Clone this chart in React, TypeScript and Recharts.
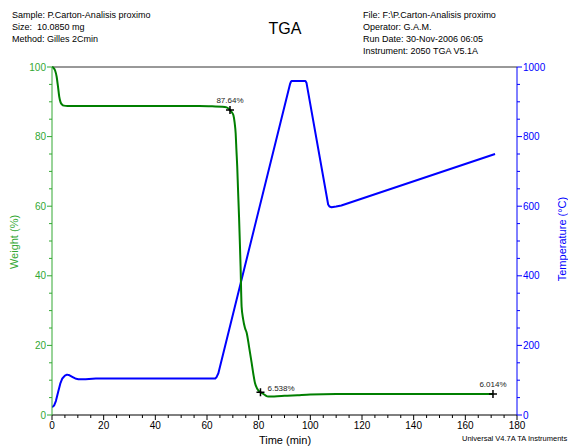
import React from "react"
import { ComposedChart, Line, XAxis, YAxis, ReferenceLine, ReferenceDot } from "recharts"

// weight curve (%), sampled along time (min)
const weightTime = [0, 0.6, 1.2, 1.8, 2.3, 2.8, 3.3, 3.9, 4.6, 6, 10, 20, 30, 40, 50, 57, 62, 66, 67.6, 68.9, 69.6, 70.2, 70.7, 71.1, 71.4, 71.7, 72.0, 72.4, 72.7, 73.0, 73.4, 74.0, 74.7, 75.4, 76.3, 77.3, 78.0, 78.6, 79.5, 80.5, 81.5, 82.5, 83.7, 86, 90, 95, 100, 110, 130, 150, 170.7]
const weightValues = [100, 99.7, 99, 97.2, 94.5, 91.5, 89.9, 89.2, 88.9, 88.8, 88.8, 88.8, 88.8, 88.8, 88.8, 88.8, 88.7, 88.6, 88.4, 87.64, 87.0, 86.2, 84, 80.9, 76, 71.4, 65, 57, 50, 42.6, 31.1, 27.5, 25, 23.5, 19.5, 14.9, 11.5, 9.1, 7.5, 6.6, 6.2, 5.7, 5.3, 5.35, 5.5, 5.7, 5.9, 6.0, 6.0, 6.0, 6.014]

// temperature curve (°C)
const tempTime = [0, 0.8, 1.5, 2.4, 3.2, 4, 5, 5.8, 6.8, 8, 9, 10.2, 13, 17, 20, 40, 63.2, 63.7, 64.4, 92.1, 92.5, 92.9, 98.1, 98.5, 106.9, 107.4, 108.2, 110, 112, 171.5]
const tempValues = [22, 27, 40, 67, 90, 105, 113, 116, 114, 109, 105, 103, 103, 105, 105, 105, 105, 109, 120, 950, 958, 960, 960, 955, 605, 599, 597, 599, 602, 750]

// annotated points
const markerTime = [68.9, 80.7, 170.7]
const markerWeight = [87.64, 6.538, 6.014]
const markerLabels = ["87.64%", "6.538%", "6.014%"]
const markerLabelSide = ["top", "right", "top"]

const timeTicks = Array.from({ length: 37 }, (_, i) => i * 5)
const weightTicks = Array.from({ length: 21 }, (_, i) => i * 5)
const tempTicks = Array.from({ length: 21 }, (_, i) => i * 50)

const headerLeft = ["Sample: P.Carton-Analisis proximo", "Size:  10.0850 mg", "Method: Gilles 2Cmin"]
const headerRight = ["File: F:\\P.Carton-Analisis proximo", "Operator: G.A.M.", "Run Date: 30-Nov-2006 06:05", "Instrument: 2050 TGA V5.1A"]

const weightData = weightTime.map((t, i) => ({ t, w: weightValues[i] }))
const tempData = tempTime.map((t, i) => ({ t, c: tempValues[i] }))

const FONT = "'Liberation Sans', Arial, sans-serif"
const GREEN = "#007f00"
const GREEN_AXIS = "#33a833"
const BLUE = "#0000ff"

function BottomTick(props: any) {
  const { x, y, payload } = props
  const major = payload.value % 20 === 0
  return (
    <g>
      <line x1={x} x2={x} y1={y} y2={y + (major ? 5 : 3)} stroke="#000" />
      {major && (
        <text x={x} y={y + 14} textAnchor="middle" fontSize={10} fill="#000" fontFamily={FONT}>
          {payload.value}
        </text>
      )}
    </g>
  )
}

function LeftTick(props: any) {
  const { x, y, payload } = props
  const major = payload.value % 20 === 0
  return (
    <g>
      <line x1={x} x2={x - (major ? 5 : 3)} y1={y} y2={y} stroke={GREEN_AXIS} />
      {major && (
        <text x={x - 6} y={y + 3.5} textAnchor="end" fontSize={10} fill={GREEN_AXIS} fontFamily={FONT}>
          {payload.value}
        </text>
      )}
    </g>
  )
}

function RightTick(props: any) {
  const { x, y, payload } = props
  const major = payload.value % 200 === 0
  return (
    <g>
      <line x1={x} x2={x + (major ? 5 : 3)} y1={y} y2={y} stroke={BLUE} />
      {major && (
        <text x={x + 6} y={y + 3.5} textAnchor="start" fontSize={10} fill={BLUE} fontFamily={FONT}>
          {payload.value}
        </text>
      )}
    </g>
  )
}

function crossShape(label: string, side: string) {
  return (p: any) => {
    const { cx, cy } = p
    return (
      <g>
        <path d={`M${cx - 4},${cy}H${cx + 4}M${cx},${cy - 4}V${cy + 4}`} stroke="#000" strokeWidth={1.5} />
        <text
          x={side === "top" ? cx : cx + 7}
          y={side === "top" ? cy - 7 : cy - 1}
          textAnchor={side === "top" ? "middle" : "start"}
          fontSize={8}
          fill="#222"
          fontFamily={FONT}
        >
          {label}
        </text>
      </g>
    )
  }
}

export default function App() {
  const txt: React.CSSProperties = { position: "absolute", fontFamily: FONT, whiteSpace: "pre" }
  return (
    <div style={{ position: "absolute", left: 0, top: 0, width: 568, height: 446, background: "#fff", overflow: "hidden" }}>
      <div style={{ ...txt, left: 12, top: 9, fontSize: 9, lineHeight: "12px", color: "#000" }}>
        {headerLeft.map((s) => <div key={s}>{s}</div>)}
      </div>
      <div style={{ ...txt, left: 363, top: 9, fontSize: 9, lineHeight: "12px", color: "#000" }}>
        {headerRight.map((s) => <div key={s}>{s}</div>)}
      </div>
      <div style={{ ...txt, left: 0, width: 570, top: 20, textAlign: "center", fontSize: 16, color: "#000" }}>TGA</div>

      <ComposedChart width={568} height={446} margin={{ top: 67, right: 0, bottom: 0, left: 0 }}>
        <XAxis
          type="number"
          dataKey="t"
          domain={[0, 180]}
          ticks={timeTicks}
          interval={0}
          allowDataOverflow
          height={31}
          stroke="#000"
          tickSize={0}
          tickMargin={0}
          tickLine={false}
          tick={BottomTick}
        />
        <YAxis
          yAxisId="w"
          orientation="left"
          domain={[0, 100]}
          ticks={weightTicks}
          interval={0}
          width={52}
          stroke={GREEN_AXIS}
          tickSize={0}
          tickMargin={0}
          tickLine={false}
          tick={LeftTick}
        />
        <YAxis
          yAxisId="c"
          orientation="right"
          domain={[0, 1000]}
          ticks={tempTicks}
          interval={0}
          width={51}
          stroke={BLUE}
          tickSize={0}
          tickMargin={0}
          tickLine={false}
          tick={RightTick}
        />
        <ReferenceLine yAxisId="w" y={100} stroke="#333" strokeWidth={1} />
        <Line
          data={tempData}
          dataKey="c"
          yAxisId="c"
          type="linear"
          stroke={BLUE}
          strokeWidth={2}
          strokeLinejoin="round"
          dot={false}
          isAnimationActive={false}
        />
        <Line
          data={weightData}
          dataKey="w"
          yAxisId="w"
          type="monotone"
          stroke={GREEN}
          strokeWidth={2}
          dot={false}
          isAnimationActive={false}
        />
        {markerTime.map((t, i) => (
          <ReferenceDot
            key={i}
            x={t}
            y={markerWeight[i]}
            yAxisId="w"
            r={4}
            shape={crossShape(markerLabels[i], markerLabelSide[i])}
          />
        ))}
      </ComposedChart>

      <div style={{ ...txt, left: 14 - 40, width: 80, top: 236, textAlign: "center", fontSize: 11, color: GREEN_AXIS, transform: "rotate(-90deg)" }}>
        Weight (%)
      </div>
      <div style={{ ...txt, left: 562 - 60, width: 120, top: 233, textAlign: "center", fontSize: 11, color: BLUE, transform: "rotate(-90deg)" }}>
        Temperature (°C)
      </div>
      <div style={{ ...txt, left: 235, width: 100, top: 434, textAlign: "center", fontSize: 11, color: "#000" }}>Time (min)</div>
      <div style={{ ...txt, left: 462, top: 434, fontSize: 7.5, color: "#000" }}>Universal V4.7A TA Instruments</div>
    </div>
  )
}
